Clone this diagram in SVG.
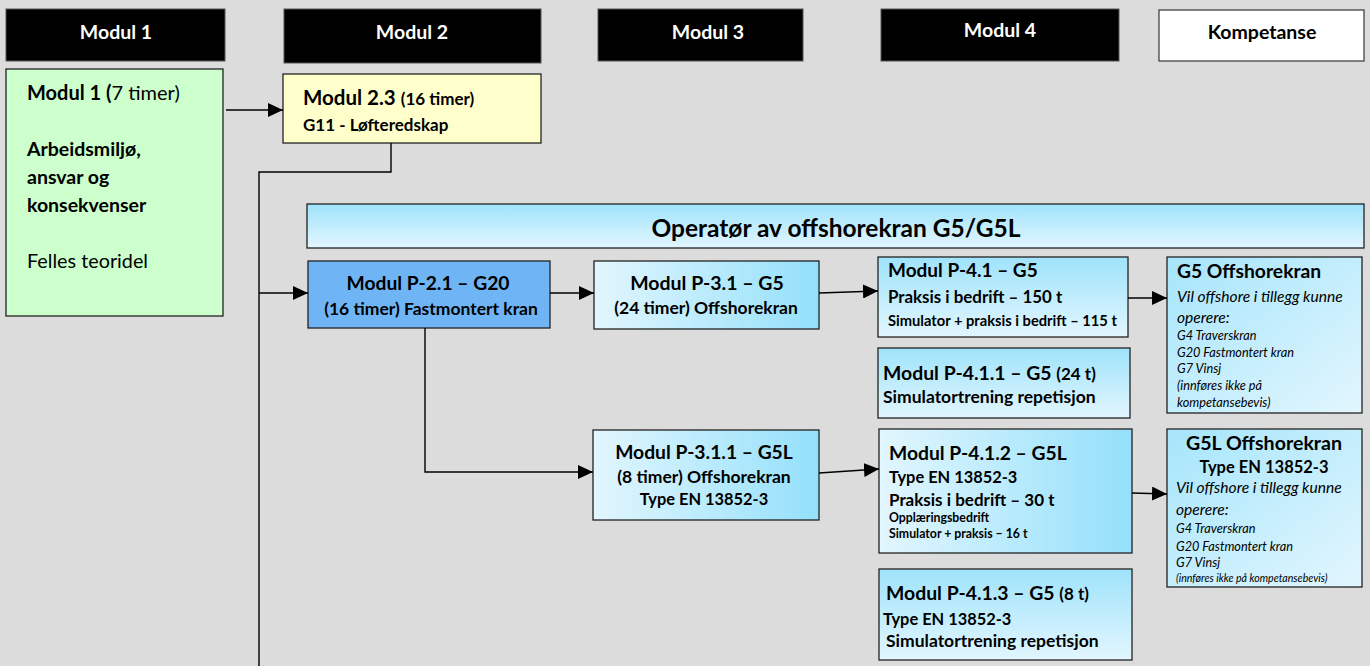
<svg xmlns="http://www.w3.org/2000/svg" width="1370" height="666" viewBox="0 0 1370 666">
<style>
text{font-family:Lato,"Liberation Sans",sans-serif;fill:#000}
.b{font-weight:bold}
.i{font-style:italic}
.hd{fill:#000;stroke:#555;stroke-width:1}
.hdt{fill:#fff;font-weight:bold;font-size:19.5px;text-anchor:middle}
.box{stroke:#222;stroke-width:1.3}
.c{text-anchor:middle}
.con{fill:none;stroke:#000;stroke-width:1.4}
</style>
<defs>
<marker id="ah" markerUnits="userSpaceOnUse" markerWidth="15" markerHeight="14" refX="15" refY="7" orient="auto"><path d="M0,0 L15,7 L0,14 z" fill="#000"/></marker>
<linearGradient id="gv" x1="0" y1="0" x2="0" y2="1"><stop offset="0" stop-color="#9fe3fb"/><stop offset="1" stop-color="#e2f6fe"/></linearGradient>
<linearGradient id="gh" x1="0" y1="0" x2="1" y2="0"><stop offset="0" stop-color="#e2f6fe"/><stop offset="1" stop-color="#94e0fb"/></linearGradient>
<linearGradient id="gd" x1="0" y1="0" x2="1" y2="1"><stop offset="0" stop-color="#a6e5fb"/><stop offset="1" stop-color="#e2f6fe"/></linearGradient>
</defs>
<rect width="1370" height="666" fill="#dcdcdc"/>

<g id="h1"><rect class="hd" x="6" y="9" width="219" height="52"/><text class="hdt" x="116" y="39">Modul 1</text></g>
<g id="h2"><rect class="hd" x="284" y="9" width="257" height="54"/><text class="hdt" x="412" y="39">Modul 2</text></g>
<g id="h3"><rect class="hd" x="598" y="9" width="205" height="52"/><text class="hdt" x="708" y="39">Modul 3</text></g>
<g id="h4"><rect class="hd" x="881" y="9" width="238" height="52"/><text class="hdt" x="1000" y="37">Modul 4</text></g>
<g id="hk"><rect x="1159" y="10" width="205" height="51" fill="#fff" stroke="#444" stroke-width="1.3"/><text class="b c" x="1262" y="39" font-size="19.5">Kompetanse</text></g>

<g id="m1"><rect class="box" x="6" y="69" width="217" height="247" fill="#ccffcc"/>
<text x="27" y="100" font-size="20"><tspan class="b">Modul 1 (</tspan>7 timer)</text>
<text class="b" x="27" y="156" font-size="19.5">Arbeidsmiljø,</text>
<text class="b" x="27" y="184" font-size="19.5">ansvar og</text>
<text class="b" x="27" y="212" font-size="19.5">konsekvenser</text>
<text x="27" y="268" font-size="19.8">Felles teoridel</text></g>

<g id="m23"><rect class="box" x="283" y="74" width="258" height="69" fill="#ffffcc"/>
<text class="b" x="303" y="105" font-size="20.5">Modul 2.3 <tspan font-size="17">(16 timer)</tspan></text>
<text class="b" x="303" y="131" font-size="17">G11 - Løfteredskap</text></g>

<g id="op"><rect class="box" x="307" y="204" width="1057" height="44" fill="url(#gv)"/>
<text class="b c" x="836" y="237" font-size="24.5">Operatør av offshorekran G5/G5L</text></g>

<g id="p21"><rect class="box" x="308" y="261" width="242" height="67" fill="#6fb5f6"/>
<text class="b c" x="428" y="290" font-size="19.3">Modul P-2.1 – G20</text>
<text class="b c" x="431" y="315" font-size="17.5">(16 timer) Fastmontert kran</text></g>

<g id="p31"><rect class="box" x="594" y="261" width="225" height="68" fill="url(#gh)"/>
<text class="b c" x="707" y="290" font-size="19.5">Modul P-3.1 – G5</text>
<text class="b c" x="706" y="314" font-size="17.5">(24 timer) Offshorekran</text></g>

<g id="p311"><rect class="box" x="593" y="430" width="226" height="90" fill="url(#gh)"/>
<text class="b c" x="704" y="459" font-size="19.3">Modul P-3.1.1 – G5L</text>
<text class="b c" x="704" y="483" font-size="17.5">(8 timer) Offshorekran</text>
<text class="b c" x="704" y="505" font-size="16.4">Type EN 13852-3</text></g>

<g id="p41"><rect class="box" x="878" y="257" width="250" height="80" fill="url(#gv)"/>
<text class="b" x="888" y="277" font-size="19">Modul P-4.1 – G5</text>
<text class="b" x="888" y="303" font-size="16.9">Praksis i bedrift – 150 t</text>
<text class="b" x="888" y="326" font-size="14.7">Simulator + praksis i bedrift – 115 t</text></g>

<g id="p411"><rect class="box" x="878" y="348" width="252" height="70" fill="url(#gv)"/>
<text class="b" x="883" y="380" font-size="19.4">Modul P-4.1.1 – G5 <tspan font-size="17">(24 t)</tspan></text>
<text class="b" x="883" y="403" font-size="17.5">Simulatortrening repetisjon</text></g>

<g id="p412"><rect class="box" x="879" y="429" width="253" height="124" fill="url(#gh)"/>
<text class="b" x="889" y="460" font-size="19.3">Modul P-4.1.2 – G5L</text>
<text class="b" x="889" y="483" font-size="16.4">Type EN 13852-3</text>
<text class="b" x="889" y="506" font-size="17">Praksis i bedrift – 30 t</text>
<text class="b" x="889" y="522" font-size="12.3">Opplæringsbedrift</text>
<text class="b" x="889" y="538" font-size="12.3">Simulator + praksis – 16 t</text></g>

<g id="p413"><rect class="box" x="879" y="569" width="253" height="91" fill="url(#gv)"/>
<text class="b" x="886" y="600" font-size="19.4">Modul P-4.1.3 – G5 <tspan font-size="17">(8 t)</tspan></text>
<text class="b" x="883" y="625" font-size="16.4">Type EN 13852-3</text>
<text class="b" x="886" y="647" font-size="17.5">Simulatortrening repetisjon</text></g>

<g id="g5"><rect class="box" x="1167" y="257" width="195" height="156" fill="url(#gd)"/>
<text class="b" x="1177" y="278" font-size="19.3">G5 Offshorekran</text>
<text class="i" x="1177" y="302" font-size="15.6">Vil offshore i tillegg kunne</text>
<text class="i" x="1177" y="323" font-size="15.6">operere:</text>
<text class="i" x="1177" y="340" font-size="12.7">G4 Traverskran</text>
<text class="i" x="1177" y="357" font-size="12.7">G20 Fastmontert kran</text>
<text class="i" x="1177" y="373" font-size="12.7">G7 Vinsj</text>
<text class="i" x="1177" y="390" font-size="12.7">(innføres ikke på</text>
<text class="i" x="1177" y="407" font-size="12.7">kompetansebevis)</text></g>

<g id="g5l"><rect class="box" x="1167" y="429" width="195" height="158" fill="url(#gd)"/>
<text class="b c" x="1264" y="450" font-size="19.6">G5L Offshorekran</text>
<text class="b c" x="1264" y="473" font-size="16.5">Type EN 13852-3</text>
<text class="i" x="1176" y="493" font-size="15.6">Vil offshore i tillegg kunne</text>
<text class="i" x="1176" y="515" font-size="15.6">operere:</text>
<text class="i" x="1176" y="533" font-size="12.7">G4 Traverskran</text>
<text class="i" x="1176" y="551" font-size="12.7">G20 Fastmontert kran</text>
<text class="i" x="1176" y="567" font-size="12.7">G7 Vinsj</text>
<text class="i" x="1176" y="582" font-size="10.6">(innføres ikke på kompetansebevis)</text></g>

<g id="connectors">
<path class="con" d="M226,110 H283" marker-end="url(#ah)"/>
<path class="con" d="M391,143 V172 H259 V666"/>
<path class="con" d="M259,293 H308" marker-end="url(#ah)"/>
<path class="con" d="M550,293 H594" marker-end="url(#ah)"/>
<path class="con" d="M425,328 V472 H593" marker-end="url(#ah)"/>
<path class="con" d="M819,293 L878,291" marker-end="url(#ah)"/>
<path class="con" d="M1128,298 H1167" marker-end="url(#ah)"/>
<path class="con" d="M819,473 L879,469" marker-end="url(#ah)"/>
<path class="con" d="M1132,493 L1167,494" marker-end="url(#ah)"/>
</g>
</svg>
